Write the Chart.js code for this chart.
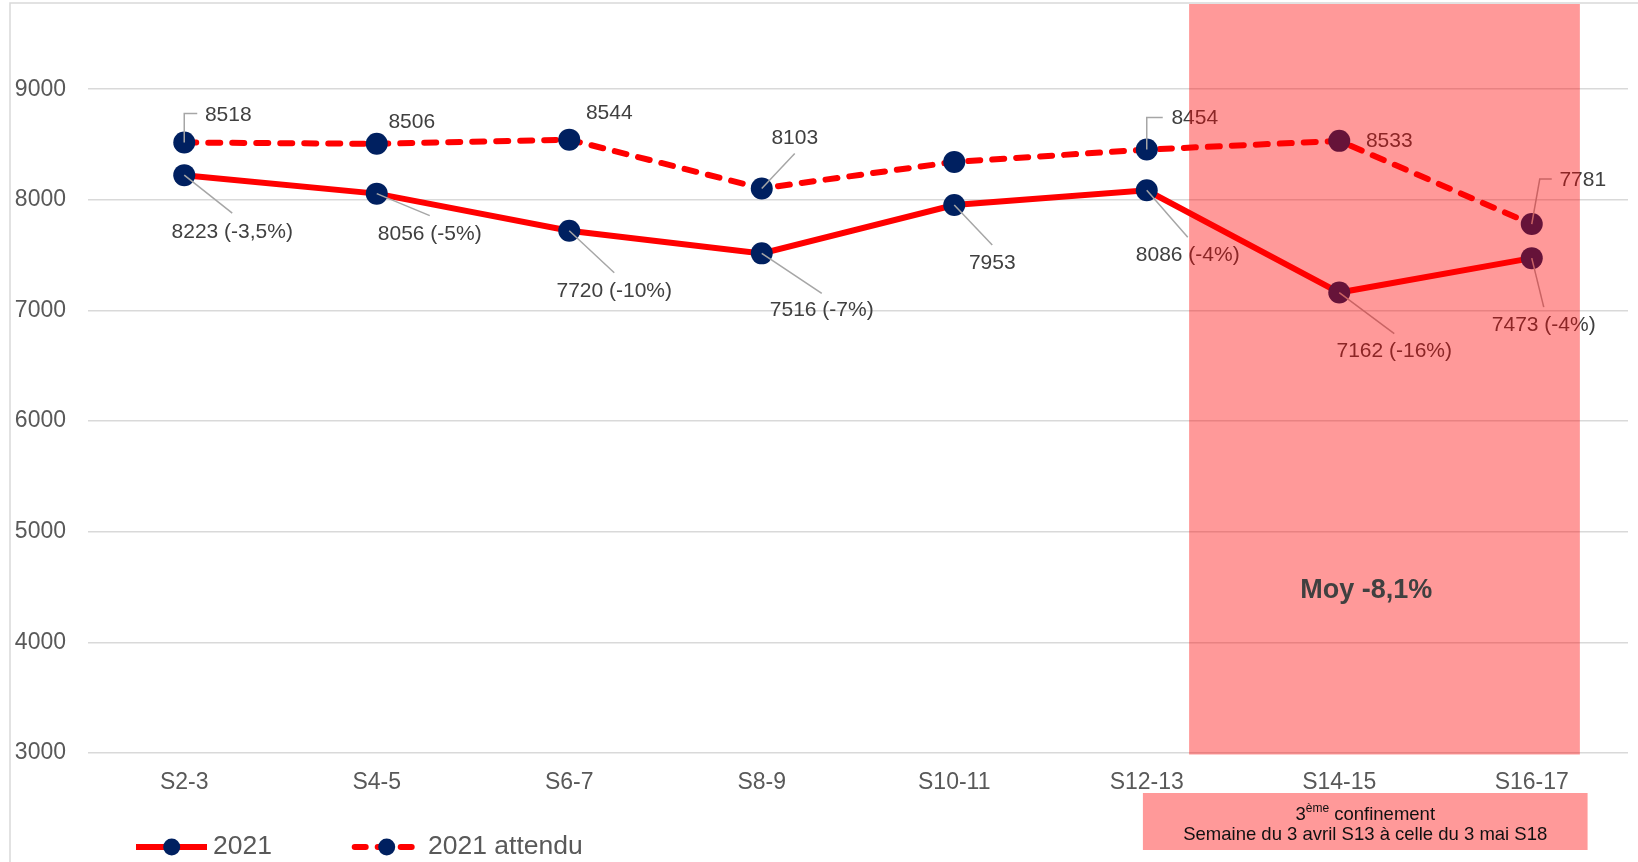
<!DOCTYPE html>
<html>
<head>
<meta charset="utf-8">
<script src="https://cdn.jsdelivr.net/npm/chart.js@4.4.1/dist/chart.umd.min.js"></script>
<style>
  html, body { margin: 0; padding: 0; background: #fff; overflow: hidden; }
  canvas { display: block; }
</style>
</head>
<body>
<canvas id="c" width="1638" height="862"></canvas>
<script>
// ---- data ----
const weeks = ['S2-3', 'S4-5', 'S6-7', 'S8-9', 'S10-11', 'S12-13', 'S14-15', 'S16-17'];
const reel2021 = [8223, 8056, 7720, 7516, 7953, 8086, 7162, 7473];
const attendu2021 = [8518, 8506, 8544, 8103, 8343, 8454, 8533, 7781];
const ecarts = ['-3,5%', '-5%', '-10%', '-7%', null, '-4%', '-16%', '-4%'];
const attenduAffiche = [true, true, true, true, false, true, true, true];
const yTicks = [3000, 4000, 5000, 6000, 7000, 8000, 9000];
const seriesNames = ['2021', '2021 attendu'];
const moyenneTexte = 'Moy -8,1%';
const noteLigne1 = ['3', 'ème', ' confinement'];
const noteLigne2 = 'Semaine du 3 avril S13 à celle du 3 mai S18';

// ---- layout of annotations (category-index / value space) ----
const bandFrom = 5.22, bandTo = 7.25;          // lockdown shading
const noteFrom = 4.98, noteTo = 7.29;          // caption box under the axis
const moyennePos = { x: 6.14, y: 4470 };

// label text centre offsets from each point, with leader line paths
const pos2021 = [
  { dx: 48, dy: 57, lead: [[48, 38]] },
  { dx: 53, dy: 41, lead: [[53, 22]] },
  { dx: 45, dy: 60, lead: [[45, 42]] },
  { dx: 60, dy: 57, lead: [[60, 40]] },
  { dx: 38, dy: 58, lead: [[38, 40]] },
  { dx: 41, dy: 65, lead: [[41, 47]] },
  { dx: 55, dy: 59, lead: [[55, 41]] },
  { dx: 12, dy: 67, lead: [[12, 49]] }
];
const posAttendu = [
  { dx: 44, dy: -27, lead: [[0, -29], [13, -29]] },
  { dx: 35, dy: -22 },
  { dx: 40, dy: -26 },
  { dx: 33, dy: -50, lead: [[33, -35]] },
  null,
  { dx: 48, dy: -31, lead: [[0, -32], [16, -32]] },
  { dx: 50, dy: 0 },
  { dx: 51, dy: -44, lead: [[8, -45], [20, -45]] }
];

const FONT = '"Liberation Sans", Arial, Helvetica, sans-serif';
const RED = '#FF0000';
const NAVY = '#002060';

const labels2021 = reel2021.map((v, i) => ecarts[i] ? `${v} (${ecarts[i]})` : `${v}`);
const labelsAttendu = attendu2021.map((v, i) => attenduAffiche[i] ? `${v}` : null);

function drawLabels(ctx, meta, texts, positions) {
  meta.data.forEach((pt, i) => {
    const p = positions[i];
    if (!p || !texts[i]) return;
    if (p.lead) {
      ctx.beginPath();
      ctx.moveTo(pt.x, pt.y);
      p.lead.forEach(([lx, ly]) => ctx.lineTo(pt.x + lx, pt.y + ly));
      ctx.strokeStyle = '#A6A6A6';
      ctx.lineWidth = 1.5;
      ctx.stroke();
    }
    ctx.fillStyle = '#404040';
    ctx.font = `21px ${FONT}`;
    ctx.textAlign = 'center';
    ctx.textBaseline = 'middle';
    ctx.fillText(texts[i], pt.x + p.dx, pt.y + p.dy);
  });
}

const annotations = {
  id: 'annotations',
  afterDatasetsDraw(chart) {
    const ctx = chart.ctx, xs = chart.scales.x, ys = chart.scales.y, area = chart.chartArea;
    ctx.save();
    drawLabels(ctx, chart.getDatasetMeta(0), labels2021, pos2021);
    drawLabels(ctx, chart.getDatasetMeta(1), labelsAttendu, posAttendu);

    // lockdown period shading over the plot
    const x0 = xs.getPixelForValue(bandFrom), x1 = xs.getPixelForValue(bandTo);
    const yb = ys.getPixelForValue(3000) + 1.5;
    ctx.fillStyle = 'rgba(255,0,0,0.4)';
    ctx.fillRect(x0, area.top, x1 - x0, yb - area.top);

    ctx.fillStyle = '#404040';
    ctx.font = `bold 27px ${FONT}`;
    ctx.textAlign = 'center';
    ctx.textBaseline = 'middle';
    ctx.fillText(moyenneTexte, xs.getPixelForValue(moyennePos.x), ys.getPixelForValue(moyennePos.y));
    ctx.restore();
  },
  afterDraw(chart) {
    const ctx = chart.ctx, xs = chart.scales.x;
    ctx.save();

    // caption box
    const nx0 = xs.getPixelForValue(noteFrom), nx1 = xs.getPixelForValue(noteTo);
    ctx.fillStyle = '#FF9999';
    ctx.fillRect(nx0, 793, nx1 - nx0, 57);
    const cx = (nx0 + nx1) / 2;
    ctx.fillStyle = '#111';
    ctx.textBaseline = 'middle';
    const big = `18.5px ${FONT}`, small = `12px ${FONT}`;
    ctx.font = big; const w1 = ctx.measureText(noteLigne1[0]).width;
    ctx.font = small; const w2 = ctx.measureText(noteLigne1[1]).width;
    ctx.font = big; const w3 = ctx.measureText(noteLigne1[2]).width;
    let tx = cx - (w1 + w2 + w3) / 2;
    ctx.textAlign = 'left';
    ctx.font = big; ctx.fillText(noteLigne1[0], tx, 815); tx += w1;
    ctx.font = small; ctx.fillText(noteLigne1[1], tx, 809); tx += w2;
    ctx.font = big; ctx.fillText(noteLigne1[2], tx, 815);
    ctx.textAlign = 'center';
    ctx.fillText(noteLigne2, cx, 835);

    // legend
    const ly = 847;
    ctx.lineWidth = 6;
    ctx.strokeStyle = RED;
    ctx.lineCap = 'butt';
    ctx.beginPath(); ctx.moveTo(136, ly); ctx.lineTo(207, ly); ctx.stroke();
    ctx.fillStyle = NAVY;
    ctx.beginPath(); ctx.arc(171.7, ly, 8.5, 0, Math.PI * 2); ctx.fill();

    ctx.lineCap = 'round';
    ctx.setLineDash([11, 12]);
    ctx.beginPath(); ctx.moveTo(354.7, ly); ctx.lineTo(414, ly); ctx.stroke();
    ctx.setLineDash([]);
    ctx.beginPath(); ctx.arc(386.7, ly, 8.5, 0, Math.PI * 2); ctx.fill();

    ctx.fillStyle = '#595959';
    ctx.font = `26.5px ${FONT}`;
    ctx.textAlign = 'left';
    ctx.textBaseline = 'middle';
    ctx.fillText(seriesNames[0], 213, ly);
    ctx.fillText(seriesNames[1], 428, ly);

    // chart frame
    ctx.strokeStyle = '#D9D9D9';
    ctx.lineWidth = 1.5;
    ctx.strokeRect(10, 3, 1700, 1000);
    ctx.restore();
  }
};

new Chart(document.getElementById('c'), {
  type: 'line',
  data: {
    labels: weeks,
    datasets: [
      {
        label: seriesNames[0],
        data: reel2021,
        borderColor: RED,
        borderWidth: 6,
        pointRadius: 11,
        pointBackgroundColor: NAVY,
        pointBorderWidth: 0,
        tension: 0
      },
      {
        label: seriesNames[1],
        data: attendu2021,
        borderColor: RED,
        borderWidth: 6,
        borderDash: [12, 12],
        borderCapStyle: 'round',
        pointRadius: 11,
        pointBackgroundColor: NAVY,
        pointBorderWidth: 0,
        tension: 0
      }
    ]
  },
  options: {
    responsive: false,
    animation: false,
    devicePixelRatio: 1,
    events: [],
    layout: { autoPadding: false, padding: { top: 4, right: 10, left: 0, bottom: 0 } },
    plugins: { legend: { display: false }, tooltip: { enabled: false } },
    scales: {
      x: {
        offset: true,
        grid: { display: false },
        border: { display: false },
        ticks: {
          color: '#595959',
          font: { family: FONT, size: 23 },
          padding: 8,
          maxRotation: 0,
          autoSkip: false
        },
        afterFit(scale) {
          scale.height = 109;
          scale.paddingLeft = 0;
          scale.paddingRight = 0;
        }
      },
      y: {
        min: 3000,
        max: 9770,
        afterBuildTicks(scale) { scale.ticks = yTicks.map(v => ({ value: v })); },
        grid: { color: '#D9D9D9', lineWidth: 1.5, drawTicks: false },
        border: { display: false },
        ticks: {
          color: '#595959',
          font: { family: FONT, size: 23 },
          padding: 22,
          callback: (v) => String(v)
        },
        afterFit(scale) {
          scale.width = 88;
          scale.paddingTop = 0;
          scale.paddingBottom = 0;
        }
      }
    }
  },
  plugins: [annotations]
});
</script>
</body>
</html>
